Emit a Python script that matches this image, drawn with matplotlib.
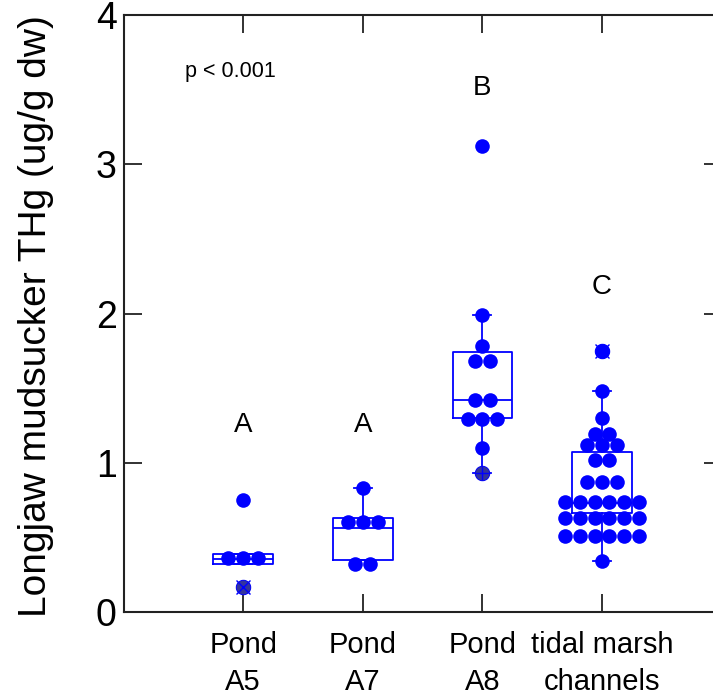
import matplotlib
matplotlib.use("Agg")
import matplotlib.pyplot as plt
import numpy as np

plt.rcParams["font.family"] = ["Liberation Sans", "DejaVu Sans"]

BLUE = "#0000ff"
DARK = "#222222"

GROUPS = ["Pond\nA5", "Pond\nA7", "Pond\nA8", "tidal marsh\nchannels"]
LETTERS = ["A", "A", "B", "C"]
LETTER_Y = [1.25, 1.25, 3.51, 2.18]

# individual fish THg (ug/g dw)
POND_A5 = [0.75, 0.36, 0.36, 0.36, 0.17]
POND_A7 = [0.83, 0.60, 0.60, 0.60, 0.32, 0.32]
POND_A8 = [3.12, 1.99, 1.78, 1.68, 1.68, 1.42, 1.42, 1.29, 1.29, 1.29, 1.10, 0.93]
TIDAL = [1.75, 1.48, 1.30, 1.19, 1.19, 1.12, 1.12, 1.12, 1.02, 1.02,
         0.87, 0.87, 0.87,
         0.74, 0.74, 0.74, 0.74, 0.74, 0.74,
         0.63, 0.63, 0.63, 0.63, 0.63, 0.63,
         0.51, 0.51, 0.51, 0.51, 0.51, 0.51,
         0.34]

# box summaries: low whisker, q1, median, q3, high whisker
BOX_A5 = [0.32, 0.32, 0.355, 0.39, 0.39]
BOX_A7 = [0.35, 0.35, 0.565, 0.63, 0.83]
BOX_A8 = [0.93, 1.30, 1.42, 1.74, 1.99]
BOX_TIDAL = [0.34, 0.66, 0.73, 1.07, 1.48]

# outlier symbols drawn over the points
OUTLIERS = [[0.17], [], [0.93], [1.75]]
OUTLIER_STYLE = [("#34349c", "x"), None, ("#34349c", "+"), (BLUE, "x")]


def swarm_offsets(values, step):
  values = np.asarray(values)
  offsets = np.zeros(len(values))
  for value in np.unique(values):
    idx = np.where(values == value)[0]
    offsets[idx] = (np.arange(len(idx)) - (len(idx) - 1) / 2) * step
  return offsets


def box_stats(summary):
  lo, q1, med, q3, hi = summary
  return {"whislo": lo, "q1": q1, "med": med, "q3": q3, "whishi": hi, "fliers": []}


fig = plt.figure(figsize=(7.13, 6.96), dpi=100)
ax = fig.add_axes([123.6 / 713, 84 / 696, 598 / 713, 597 / 696])

positions = np.arange(1, 5)
boxes = [BOX_A5, BOX_A7, BOX_A8, BOX_TIDAL]
line = dict(color=BLUE, linewidth=1.3)
ax.bxp([box_stats(b) for b in boxes], positions=positions, widths=0.5, capwidths=0.15,
       boxprops=line, whiskerprops=line, capprops=line, medianprops=line,
       showfliers=False, patch_artist=False, manage_ticks=False)

for pos, values in zip(positions, [POND_A5, POND_A7, POND_A8, TIDAL]):
  xs = pos + swarm_offsets(values, 0.123)
  ax.plot(xs, values, "o", color=BLUE, markersize=10.5, markeredgewidth=0, zorder=3)

for pos, values, style in zip(positions, OUTLIERS, OUTLIER_STYLE):
  if style is None:
    continue
  fill, symbol = style
  xs = [pos] * len(values)
  ax.plot(xs, values, "o", markerfacecolor=fill, markeredgecolor=BLUE,
          markeredgewidth=0.6, markersize=10.5, zorder=4)
  ax.plot(xs, values, symbol, color=BLUE, markersize=10, markeredgewidth=1.0, zorder=5)

for pos, letter, y in zip(positions, LETTERS, LETTER_Y):
  ax.text(pos, y, letter, ha="center", va="center", fontsize=20)

ax.text(0.89, 3.62, "p < 0.001", ha="center", va="center", fontsize=15.5)

ax.set_xlim(0, 5)
ax.set_ylim(0, 4)
ax.set_yticks([0, 1, 2, 3, 4])
ax.set_yticklabels(["0", "1", "2", "3", "4"], fontsize=27)
ax.set_xticks(positions)
ax.set_xticklabels(GROUPS, fontsize=21, linespacing=1.4)
ax.tick_params(direction="in", length=13, width=1.3, color=DARK, top=True, right=True)
ax.tick_params(axis="y", pad=5)
ax.tick_params(axis="x", pad=14)
for spine in ax.spines.values():
  spine.set_linewidth(1.5)
  spine.set_color(DARK)

ax.set_ylabel("Longjaw mudsucker THg (ug/g dw)", fontsize=28)
ax.yaxis.set_label_coords(-0.116, 0.495)

fig.savefig("out.png", dpi=100)
